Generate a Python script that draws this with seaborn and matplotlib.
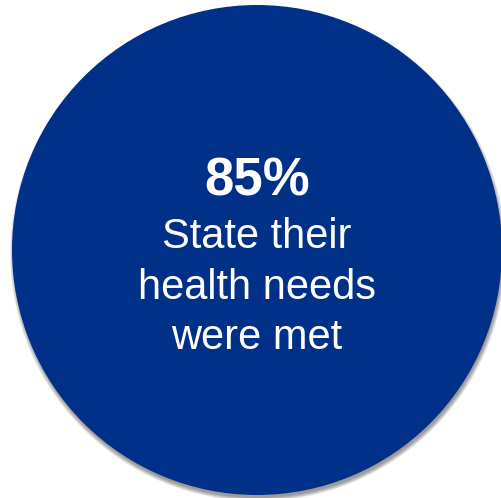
import matplotlib
matplotlib.use("Agg")
import matplotlib.pyplot as plt
from matplotlib.patches import Circle
import seaborn as sns

# Figure content
share_pct = [85]
caption_lines = ["State their", "health needs", "were met"]
circle_color = "#003087"

sns.set_theme(style="white")
plt.rcParams["font.family"] = ["Liberation Sans", "DejaVu Sans"]

W, H = 502, 498
fig = plt.figure(figsize=(W / 100, H / 100), dpi=100)
ax = fig.add_axes([0, 0, 1, 1])
ax.set_xlim(0, W)
ax.set_ylim(H, 0)
ax.set_aspect("equal")
ax.axis("off")

cx, cy, r = 257, 250, 245

# soft drop shadow falling below the disc
for k in range(6, -3, -1):
    ax.add_patch(Circle((cx + 1, cy + 3.5), r + k * 0.5,
                        color="black", alpha=0.05, lw=0, zorder=1))

ax.add_patch(Circle((cx, cy), r, color=circle_color, lw=0, zorder=2))

ax.text(cx, 195, f"{share_pct[0]}%", ha="center", va="baseline",
        color="white", fontsize=38, fontweight="bold", zorder=3)
for i, line in enumerate(caption_lines):
    ax.text(cx, 248 + i * 50.5, line, ha="center", va="baseline",
            color="white", fontsize=30, zorder=3)

fig.savefig("out.png", dpi=100, facecolor="white")
